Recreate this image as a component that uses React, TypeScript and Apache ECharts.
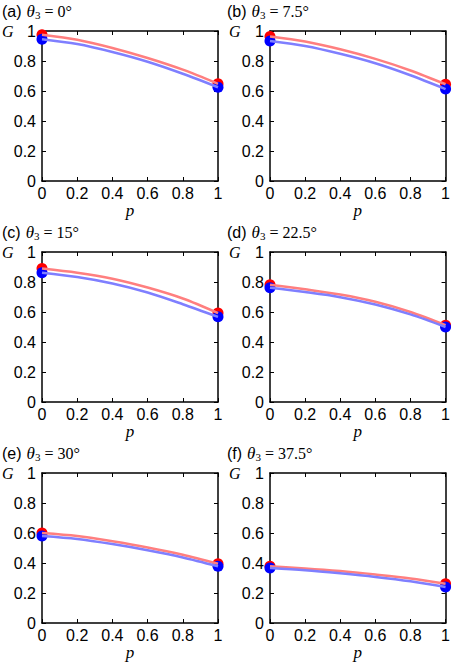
import React, { useEffect, useRef } from 'react';
import * as echarts from 'echarts';

const P = [0, 0.2, 0.4, 0.6, 0.8, 1];

const panelTags = ['(a)', '(b)', '(c)', '(d)', '(e)', '(f)'];
const thetaLabels = ['0°', '7.5°', '15°', '22.5°', '30°', '37.5°'];

// G vs p, red curve (upper) per panel
const redA = [0.975, 0.942, 0.887, 0.82, 0.742, 0.648];
const redB = [0.963, 0.93, 0.878, 0.814, 0.737, 0.645];
const redC = [0.89, 0.862, 0.822, 0.763, 0.69, 0.593];
const redD = [0.782, 0.751, 0.716, 0.668, 0.6, 0.512];
const redE = [0.6, 0.58, 0.545, 0.504, 0.455, 0.395];
const redF = [0.378, 0.364, 0.346, 0.323, 0.297, 0.262];

// blue curve (lower)
const blueA = [0.945, 0.913, 0.86, 0.795, 0.715, 0.625];
const blueB = [0.933, 0.9, 0.848, 0.785, 0.705, 0.613];
const blueC = [0.862, 0.833, 0.79, 0.73, 0.652, 0.568];
const blueD = [0.762, 0.733, 0.699, 0.65, 0.584, 0.5];
const blueE = [0.58, 0.56, 0.526, 0.485, 0.437, 0.378];
const blueF = [0.367, 0.352, 0.331, 0.307, 0.278, 0.24];

const reds = [redA, redB, redC, redD, redE, redF];
const blues = [blueA, blueB, blueC, blueD, blueE, blueF];

const SANS = 'Liberation Sans, Arial, sans-serif';
const SERIF = 'Liberation Serif, Times New Roman, serif';

export default function App() {
  const chartRef = useRef<HTMLDivElement>(null);

  useEffect(() => {
    if (!chartRef.current) return;
    document.body.style.margin = '0';
    const chart = echarts.init(chartRef.current, null, { renderer: 'svg' });

    const grids: any[] = [];
    const xAxes: any[] = [];
    const yAxes: any[] = [];
    const series: any[] = [];
    const titles: any[] = [];
    const graphics: any[] = [];

    const frameLine = { show: true, onZero: false, lineStyle: { color: '#000', width: 1.5 } };
    const tick = { show: true, inside: true, length: 4, lineStyle: { color: '#000', width: 1 } };
    const label = { color: '#000', fontSize: 16, fontFamily: SANS };

    reds.forEach((red, i) => {
      const col = i % 2;
      const row = Math.floor(i / 2);
      const left = col ? 270 : 42;
      const top = 31 + row * 221;
      grids.push({ left, top, width: col ? 178 : 176, height: 150 });

      xAxes.push({
        type: 'value', gridIndex: i, min: 0, max: 1, interval: 0.2, position: 'bottom',
        axisLine: frameLine, axisTick: tick, splitLine: { show: false },
        axisLabel: { ...label, margin: 4 },
        name: 'p', nameLocation: 'middle', nameGap: 14,
        nameTextStyle: { color: '#000', fontSize: 17, fontStyle: 'italic', fontFamily: SERIF },
      });
      xAxes.push({
        type: 'value', gridIndex: i, min: 0, max: 1, interval: 0.2, position: 'top',
        axisLine: frameLine, axisTick: tick, splitLine: { show: false },
        axisLabel: { show: false },
      });
      yAxes.push({
        type: 'value', gridIndex: i, min: 0, max: 1, interval: 0.2, position: 'left',
        axisLine: frameLine, axisTick: tick, splitLine: { show: false },
        axisLabel: { ...label, margin: 6 },
      });
      yAxes.push({
        type: 'value', gridIndex: i, min: 0, max: 1, interval: 0.2, position: 'right',
        axisLine: frameLine, axisTick: tick, splitLine: { show: false },
        axisLabel: { show: false },
      });

      const blue = blues[i];
      const xi = i * 2;
      const yi = i * 2;
      series.push({
        type: 'line', xAxisIndex: xi, yAxisIndex: yi, smooth: 0.3, showSymbol: false,
        lineStyle: { color: '#ff7f7f', width: 2.5 },
        data: P.map((p, k) => [p, red[k]]),
      });
      series.push({
        type: 'line', xAxisIndex: xi, yAxisIndex: yi, smooth: 0.3, showSymbol: false,
        lineStyle: { color: '#7f7fff', width: 2.5 },
        data: P.map((p, k) => [p, blue[k]]),
      });
      series.push({
        type: 'scatter', xAxisIndex: xi, yAxisIndex: yi, symbolSize: 11,
        itemStyle: { color: '#ff0000', opacity: 1 },
        data: [[P[0], red[0]], [P[P.length - 1], red[red.length - 1]]],
      });
      series.push({
        type: 'scatter', xAxisIndex: xi, yAxisIndex: yi, symbolSize: 11,
        itemStyle: { color: '#0000ff', opacity: 1 },
        data: [[P[0], blue[0]], [P[P.length - 1], blue[blue.length - 1]]],
      });

      titles.push({
        left: col ? 227 : 2,
        top: top - 30,
        padding: 0,
        text: `{tag|${panelTags[i]}} {th|θ}{sub|3}{eq| = ${thetaLabels[i]}}`,
        textStyle: {
          fontWeight: 'normal',
          rich: {
            tag: { fontFamily: SANS, fontSize: 16, fontWeight: 'normal', color: '#000', lineHeight: 20 },
            th: { fontFamily: SERIF, fontStyle: 'italic', fontWeight: 'normal', fontSize: 17, color: '#000', lineHeight: 20 },
            sub: { fontFamily: SERIF, fontSize: 11, fontWeight: 'normal', color: '#000', lineHeight: 20, padding: [8, 0, 0, 0] },
            eq: { fontFamily: SERIF, fontSize: 16, fontWeight: 'normal', color: '#000', lineHeight: 20 },
          },
        },
      });

      graphics.push({
        type: 'text',
        left: col ? 229 : 2,
        top: top - 8,
        style: { text: 'G', fill: '#000', font: `italic 16px ${SERIF}` },
      });
    });

    chart.setOption({
      animation: false,
      title: titles,
      grid: grids,
      xAxis: xAxes,
      yAxis: yAxes,
      series,
      graphic: graphics,
    });

    return () => {
      chart.dispose();
    };
  }, []);

  return <div ref={chartRef} style={{ width: 453, height: 662 }} />;
}
